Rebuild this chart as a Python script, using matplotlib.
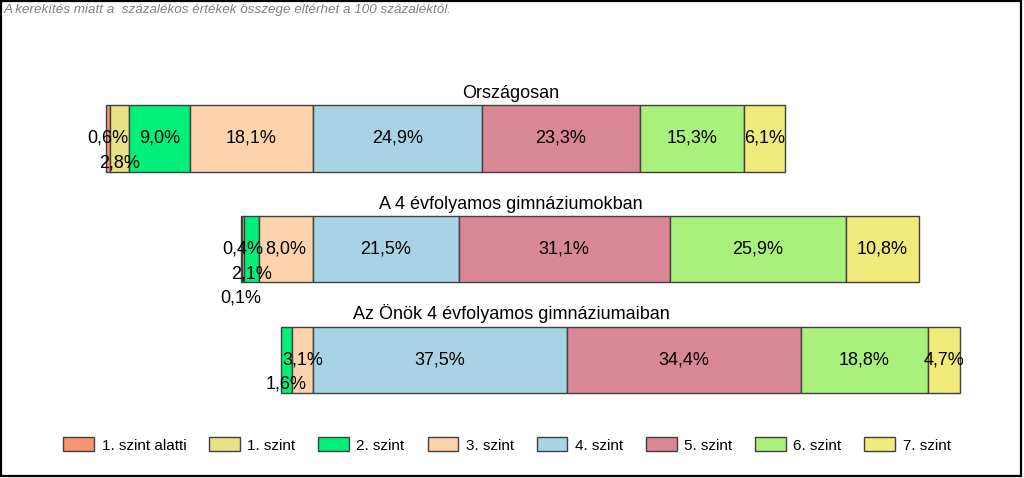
import matplotlib
matplotlib.use("Agg")
import matplotlib.pyplot as plt
from matplotlib.patches import Patch, Rectangle
from matplotlib.transforms import blended_transform_factory
import numpy as np

plt.rcParams['font.family'] = ['Liberation Sans', 'DejaVu Sans']

# --- data ---
groups = ['Országosan', 'A 4 évfolyamos gimnáziumokban', 'Az Önök 4 évfolyamos gimnáziumaiban']
levels = ['1. szint alatti', '1. szint', '2. szint', '3. szint',
          '4. szint', '5. szint', '6. szint', '7. szint']
below1 = [0.6, 0.1, 0.0]
level1 = [2.8, 0.4, 0.0]
level2 = [9.0, 2.1, 1.6]
level3 = [18.1, 8.0, 3.1]
level4 = [24.9, 21.5, 37.5]
level5 = [23.3, 31.1, 34.4]
level6 = [15.3, 25.9, 18.8]
level7 = [6.1, 10.8, 4.7]

colors = ['#FA9470', '#E8E185', '#00F07A', '#FDD3AE',
          '#A7D3E4', '#D98697', '#AAF07C', '#F0EA7A']

# labels of narrow segments pushed down by n steps: (group, level) -> steps
label_drop = {(0, 1): 1, (1, 0): 2, (1, 2): 1, (2, 2): 1}

values = np.array([below1, level1, level2, level3, level4, level5, level6, level7])
# bars are aligned on the 3. szint / 4. szint boundary
starts = -values[:4].sum(axis=0)
lefts = starts + np.vstack([np.zeros(3), np.cumsum(values, axis=0)[:-1]])

W, H = 1024, 478
fig = plt.figure(figsize=(W / 100, H / 100), dpi=100)
ax = fig.add_axes([0, 0, 1, 1])
ax.axis('off')
ax.set_xlim(-46.1, 104.8)
ax.set_ylim(3.067, -1.251)

bar_h = 0.6
ypos = np.arange(len(groups))
for k, lev in enumerate(levels):
    for i in range(len(groups)):
        v = values[k, i]
        if v <= 0:
            continue
        ax.barh(ypos[i], v, left=lefts[k, i], height=bar_h, color=colors[k],
                edgecolor='#404040', linewidth=1)
        txt = f"{v:.1f}".replace('.', ',') + '%'
        drop = label_drop.get((i, k), 0)
        ax.text(lefts[k, i] + v / 2, ypos[i] + drop * 0.22, txt,
                ha='center', va='center', fontsize=13, color='black')

# group titles centered on the figure
trans = blended_transform_factory(fig.transFigure, ax.transData)
for i, g in enumerate(groups):
    ax.text(0.499, ypos[i] - bar_h / 2 - 0.065, g, transform=trans,
            ha='center', va='baseline', fontsize=13)

# note on rounding
fig.text(4 / W, 1 - 10 / H, 'A kerekítés miatt a  százalékos értékek összege eltérhet a 100 százaléktól.',
         ha='left', va='center', fontsize=9.7, style='italic', color='#808080')

handles = [Patch(facecolor=c, edgecolor='#404040', linewidth=1, label=l) for c, l in zip(colors, levels)]
fig.legend(handles=handles, ncol=8, loc='center', bbox_to_anchor=(507 / W, 1 - 445 / H),
           frameon=False, fontsize=11, handlelength=2.0, handleheight=1.0,
           handletextpad=0.5, columnspacing=1.5)

# chart border
fig.add_artist(Rectangle((1 / W, 1 - 476 / H), 1020 / W, 475 / H, transform=fig.transFigure,
                         fill=False, edgecolor='black', linewidth=1.6))

fig.savefig('out.png', dpi=100)
